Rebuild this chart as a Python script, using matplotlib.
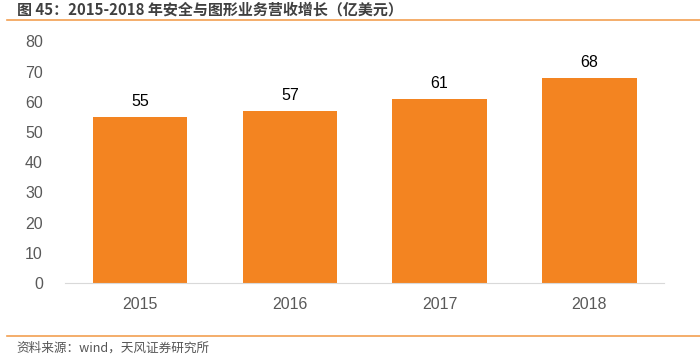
import matplotlib.pyplot as plt
from matplotlib.lines import Line2D

plt.rcParams['font.family'] = ['Liberation Sans', 'Noto Sans CJK SC', 'DejaVu Sans']

# -----------------------
# DATA
# -----------------------
years = ["2015", "2016", "2017", "2018"]
revenue = [55, 57, 61, 68]
y_ticks = [0, 10, 20, 30, 40, 50, 60, 70, 80]

title = "图 45：2015-2018 年安全与图形业务营收增长（亿美元）"
source = "资料来源：wind，天风证券研究所"

# -----------------------
# PLOT
# -----------------------
fig = plt.figure(figsize=(7, 3.57), dpi=100)
ax = fig.add_axes([0.093, 0.207, 0.856, 0.677])

x = list(range(len(years)))
ax.bar(x, revenue, width=0.63, color="#F38421", zorder=2)
for xi, v in zip(x, revenue):
    ax.text(xi, v + 2.5, str(v), ha="center", va="bottom", fontsize=11.5, color="#000000")

ax.set_xlim(-0.5, len(years) - 0.5)
ax.set_ylim(0, 80)
ax.set_yticks(y_ticks)
ax.set_xticks(x)
ax.set_xticklabels(years)
ax.tick_params(axis="both", length=0, labelsize=11.5, colors="#595959")
ax.tick_params(axis="x", pad=10)
ax.tick_params(axis="y", pad=16)
for s in ["top", "right", "left"]:
    ax.spines[s].set_visible(False)
ax.spines["bottom"].set_color("#D9D9D9")

# title, rules and source
fig.text(0.024, 0.972, title, ha="left", va="center", fontsize=10.8, fontweight="bold",
         color="#404040", family=['Noto Sans CJK SC', 'DejaVu Sans'])
fig.add_artist(Line2D([0.01, 1], [0.943, 0.943], color="#F2A052", lw=1.2))
fig.add_artist(Line2D([0.01, 1], [0.059, 0.059], color="#F2A052", lw=1.2))
fig.text(0.024, 0.025, source, ha="left", va="center", fontsize=9.1,
         color="#555555", family=['Noto Sans CJK SC', 'DejaVu Sans'])

plt.savefig("out.png", dpi=100)
plt.close()
